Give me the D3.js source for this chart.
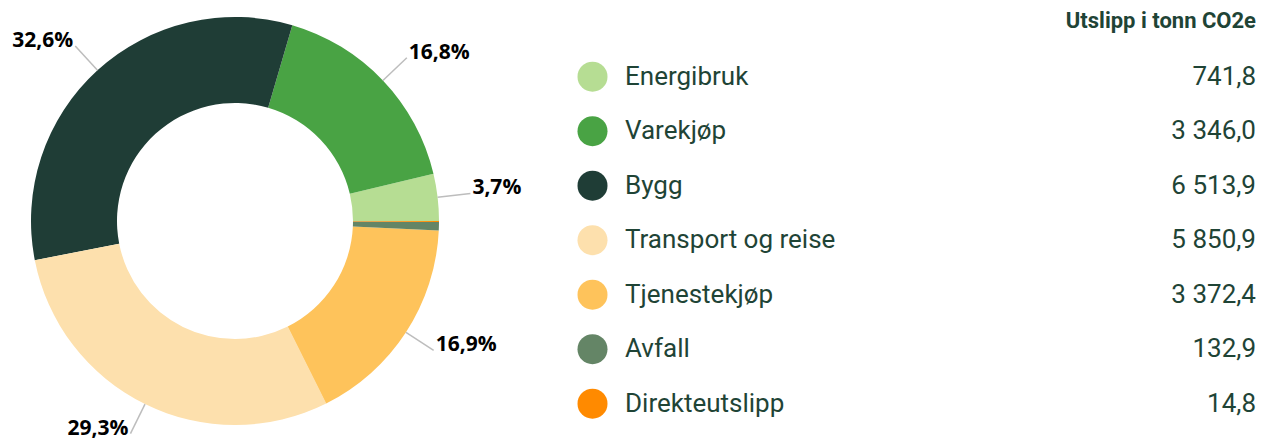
<!DOCTYPE html>
<html>
<head>
<meta charset="utf-8">
<script src="https://cdn.jsdelivr.net/npm/d3@7"></script>
<style>
  html, body { margin: 0; padding: 0; background: #fff; }
  svg { display: block; }
</style>
</head>
<body>
<svg id="chart" width="1274" height="439"></svg>
<script>
const categories = ["Energibruk", "Varekjøp", "Bygg", "Transport og reise", "Tjenestekjøp", "Avfall", "Direkteutslipp"];
const values = [741.8, 3346.0, 6513.9, 5850.9, 3372.4, 132.9, 14.8];
const colors = ["#b6dd93", "#49a344", "#1f3d36", "#fde0ad", "#fec35b", "#648566", "#ff8a00"];
const headerText = "Utslipp i tonn CO2e";

const W = 1274, H = 439;
const svg = d3.select("#chart");
const textColor = "#1f4436";

const locale = d3.formatLocale({ decimal: ",", thousands: "\u00a0", grouping: [3], currency: ["", " kr"] });
const fmtVal = locale.format(",.1f");
const fmtPct = locale.format(".1f");

// Donut
const cx = 235, cy = 221, rOuter = 204, rInner = 118;
const total = d3.sum(values);
const pie = d3.pie().sort(null).value(d => d)
  .startAngle(Math.PI / 2).endAngle(Math.PI / 2 - 2 * Math.PI);
const arcs = pie(values);
const arc = d3.arc().innerRadius(rInner).outerRadius(rOuter);

const g = svg.append("g").attr("transform", `translate(${cx},${cy})`);
g.selectAll("path.slice").data(arcs).join("path")
  .attr("class", "slice")
  .attr("d", arc)
  .attr("fill", (d, i) => colors[i]);

// Labels
const rLine0 = rOuter, rLine1 = 237;
const labeled = arcs.filter(d => d.value / total >= 0.01);
labeled.forEach(d => {
  const mid = (d.startAngle + d.endAngle) / 2;
  const sx = Math.sin(mid), sy = -Math.cos(mid);
  const x1 = rLine1 * sx, y1 = rLine1 * sy;
  g.append("line")
    .attr("x1", rLine0 * sx).attr("y1", rLine0 * sy)
    .attr("x2", x1).attr("y2", y1)
    .attr("stroke", "#bdbdbd").attr("stroke-width", 1.5);
  const right = sx >= 0;
  g.append("text")
    .attr("x", x1 + (right ? 2 : -2))
    .attr("y", y1 + 1)
    .attr("text-anchor", right ? "start" : "end")
    .attr("font-family", "'Open Sans', sans-serif")
    .attr("font-weight", 700)
    .attr("font-size", 21)
    .attr("fill", "#000")
    .text(fmtPct(d.value / total * 100) + "%");
});

// Legend
const legX = 592.5, legTextX = 625, valX = 1256;
const rowY = d3.scalePoint().domain(categories).range([76.7, 403.7]);

svg.append("text")
  .attr("x", valX).attr("y", 28)
  .attr("text-anchor", "end")
  .attr("font-family", "Roboto, sans-serif")
  .attr("font-weight", 700)
  .attr("font-size", 22)
  .attr("fill", textColor)
  .text(headerText);

const rows = svg.selectAll("g.row").data(categories).join("g")
  .attr("class", "row")
  .attr("transform", d => `translate(0,${rowY(d)})`);
rows.append("circle")
  .attr("cx", legX).attr("cy", 0).attr("r", 15)
  .attr("fill", (d, i) => colors[i]);
rows.append("text")
  .attr("x", legTextX).attr("y", 8)
  .attr("font-family", "Roboto, sans-serif")
  .attr("font-size", 26)
  .attr("fill", textColor)
  .text(d => d);
rows.append("text")
  .attr("x", valX).attr("y", 8)
  .attr("text-anchor", "end")
  .attr("font-family", "Roboto, sans-serif")
  .attr("font-size", 26)
  .attr("fill", textColor)
  .text((d, i) => fmtVal(values[i]));
</script>
</body>
</html>
